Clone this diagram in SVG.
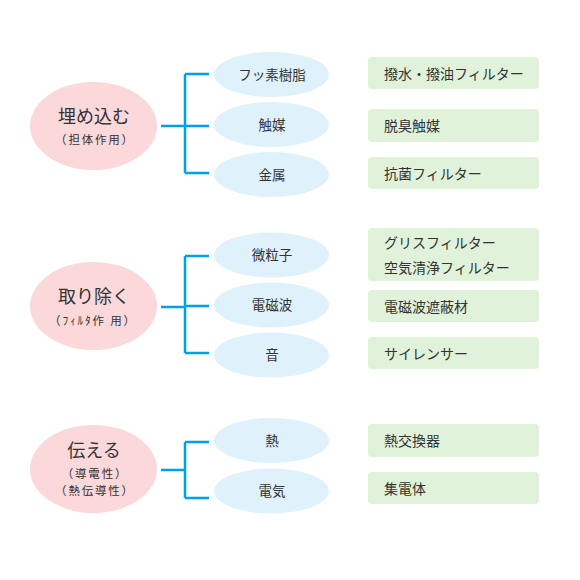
<svg xmlns="http://www.w3.org/2000/svg" width="580" height="580" viewBox="0 0 580 580">
<style>
text{font-family:"Noto Sans CJK JP","Noto Sans",sans-serif;fill:#333}
.pink{fill:#fbd8da}
.blue{fill:#dff1fb}
.green{fill:#e0f2d9}
.title{font-size:18px;text-anchor:middle}
.sub{font-size:11.5px;text-anchor:middle;letter-spacing:1.8px}
.item{font-size:13.5px;text-anchor:middle}
.res{font-size:14px}
.conn{fill:none;stroke:#00a0e9;stroke-width:2.5}
</style>
<rect width="580" height="580" fill="#fff"/>
<g id="connectors">
<path class="conn" d="M161 126H185M185 74V173M185 74H209M185 126H209M185 173H209"/>
<path class="conn" d="M161 307H185M185 256V353M185 256H209M185 306H209M185 353H209"/>
<path class="conn" d="M161 470H185M185 442V498M185 442H209M185 498H209"/>
</g>
<g id="n-umekomu"><ellipse class="pink" cx="93.5" cy="126" rx="63.5" ry="44"/><text class="title" x="94" y="123">埋め込む</text><text class="sub" x="95" y="144">（担体作用）</text></g>
<g id="n-torinozoku"><ellipse class="pink" cx="93.5" cy="306" rx="63.5" ry="44"/><text class="title" x="94" y="303">取り除く</text><text class="sub" x="93" y="325">（ﾌｨﾙﾀ作 用）</text></g>
<g id="n-tsutaeru"><ellipse class="pink" cx="93.5" cy="469" rx="63.5" ry="44"/><text class="title" x="94" y="457">伝える</text><text class="sub" x="95" y="478">（導電性）</text><text class="sub" x="95" y="495">（熱伝導性）</text></g>
<g id="n-fusso"><ellipse class="blue" cx="271.5" cy="74.5" rx="57.5" ry="22.5"/><text class="item" x="272" y="79.5">フッ素樹脂</text></g>
<g id="n-shokubai"><ellipse class="blue" cx="271.5" cy="124.5" rx="57.5" ry="22.5"/><text class="item" x="272" y="129.5">触媒</text></g>
<g id="n-kinzoku"><ellipse class="blue" cx="271.5" cy="174.5" rx="57.5" ry="22.5"/><text class="item" x="272" y="179.5">金属</text></g>
<g id="n-biryushi"><ellipse class="blue" cx="271.5" cy="255" rx="57.5" ry="22.5"/><text class="item" x="272" y="260">微粒子</text></g>
<g id="n-denjiha"><ellipse class="blue" cx="271.5" cy="305" rx="57.5" ry="22.5"/><text class="item" x="272" y="310">電磁波</text></g>
<g id="n-oto"><ellipse class="blue" cx="271.5" cy="355" rx="57.5" ry="22.5"/><text class="item" x="272" y="360">音</text></g>
<g id="n-netsu"><ellipse class="blue" cx="271.5" cy="440.5" rx="57.5" ry="22.5"/><text class="item" x="272" y="445.5">熱</text></g>
<g id="n-denki"><ellipse class="blue" cx="271.5" cy="491" rx="57.5" ry="22.5"/><text class="item" x="272" y="496">電気</text></g>
<g id="r-hassui"><rect class="green" x="368" y="57" width="171" height="32" rx="4"/><text class="res" x="384" y="78.5">撥水・撥油フィルター</text></g>
<g id="r-dasshu"><rect class="green" x="368" y="109" width="171" height="33" rx="4"/><text class="res" x="384" y="131">脱臭触媒</text></g>
<g id="r-kokin"><rect class="green" x="368" y="157" width="171" height="32" rx="4"/><text class="res" x="384" y="178.5">抗菌フィルター</text></g>
<g id="r-filter"><rect class="green" x="368" y="228" width="171" height="53" rx="4"/><text class="res" x="384" y="248">グリスフィルター</text><text class="res" x="384" y="273">空気清浄フィルター</text></g>
<g id="r-shahei"><rect class="green" x="368" y="290" width="171" height="32" rx="4"/><text class="res" x="384" y="311.5">電磁波遮蔽材</text></g>
<g id="r-silencer"><rect class="green" x="368" y="337" width="171" height="32" rx="4"/><text class="res" x="384" y="358.5">サイレンサー</text></g>
<g id="r-netsukokan"><rect class="green" x="368" y="424" width="171" height="33" rx="4"/><text class="res" x="384" y="446">熱交換器</text></g>
<g id="r-shuden"><rect class="green" x="368" y="472" width="171" height="32" rx="4"/><text class="res" x="384" y="493.5">集電体</text></g>
</svg>
